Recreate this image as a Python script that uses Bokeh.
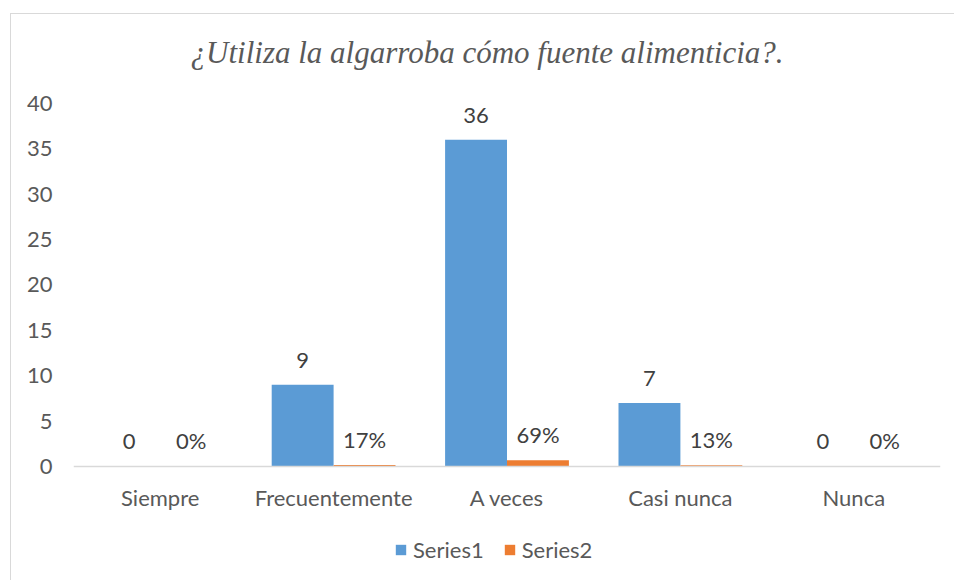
from bokeh.plotting import figure
from bokeh.models import ColumnDataSource, FactorRange, Range1d, FixedTicker, LabelSet, Label, Legend, LegendItem, Span
from bokeh.core.properties import value
from bokeh.transform import dodge
from bokeh.embed import file_html
from bokeh.resources import INLINE

categories = ["Siempre", "Frecuentemente", "A veces", "Casi nunca", "Nunca"]
series1 = [0, 9, 36, 7, 0]
series2 = [0.0, 0.17, 0.69, 0.13, 0.0]
y_ticks = [0, 5, 10, 15, 20, 25, 30, 35, 40]
series_names = ["Series1", "Series2"]
title_text = "¿Utiliza la algarroba cómo fuente alimenticia?."

BLUE = "#5B9BD5"
ORANGE = "#ED7D31"
TXT = "#595959"
LBL = "#404040"
FONT = "Lato"

src = ColumnDataSource(dict(
    cat=categories,
    s1=series1,
    s2=series2,
    zero=[0] * len(categories),
    l1=[str(v) for v in series1],
    l2=["{:.0f}%".format(v * 100) for v in series2],
))

# The frame spans the whole chart height; the value axis only shows ticks 0..40,
# the room above holds the title and the room below holds categories and legend.
p = figure(
    x_range=FactorRange(*categories, range_padding=0),
    y_range=Range1d(-12.011, 49.807),
    width=944, height=567,
    output_backend="svg", toolbar_location=None,
    min_border_left=62, min_border_right=15, min_border_top=0, min_border_bottom=6,
    background_fill_color="white", border_fill_color="white",
)
p.title.visible = False
p.styles = {
    "margin-left": "10px", "margin-top": "13px",
    "border-left": "1px solid #d9d9d9", "border-top": "1px solid #d9d9d9",
}
p.outline_line_color = None
p.xgrid.grid_line_color = None
p.ygrid.grid_line_color = None
p.xaxis.visible = False

title = Label(x=2.385, y=45.6, text=title_text, text_align="center",
              text_baseline="alphabetic", text_font="Liberation Serif",
              text_font_style="italic", text_font_size="31px", text_color=TXT)
p.add_layout(title)

bw = 0.357
r1 = p.vbar(x=dodge("cat", -bw / 2, range=p.x_range), top="s1", width=bw, source=src,
            fill_color=BLUE, line_color=None)
r2 = p.vbar(x=dodge("cat", bw / 2, range=p.x_range), top="s2", width=bw, source=src,
            fill_color=ORANGE, line_color=None)

# category axis line at zero
p.add_layout(Span(location=0, dimension="width", line_color="#d9d9d9", line_width=1.5))

# category labels
catlab = LabelSet(x="cat", y="zero", text="cat", source=src,
                  text_align="center", text_baseline="alphabetic", y_offset=-40,
                  text_font=value(FONT), text_font_size="22px", text_color=TXT)
p.add_layout(catlab)

lab1 = LabelSet(x=dodge("cat", -bw / 2, range=p.x_range), y="s1", text="l1", source=src,
                text_align="center", text_baseline="alphabetic", y_offset=17,
                text_font=value(FONT), text_font_size="22px", text_color=LBL)
lab2 = LabelSet(x=dodge("cat", bw / 2, range=p.x_range), y="s2", text="l2", source=src,
                text_align="center", text_baseline="alphabetic", y_offset=17,
                text_font=value(FONT), text_font_size="22px", text_color=LBL)
p.add_layout(lab1)
p.add_layout(lab2)

# y axis
p.yaxis.ticker = FixedTicker(ticks=y_ticks)
p.yaxis.axis_line_color = None
p.yaxis.major_tick_line_color = None
p.yaxis.minor_tick_line_color = None
p.yaxis.major_tick_out = 0
p.yaxis.major_tick_in = 0
p.yaxis.major_label_standoff = 21
p.yaxis.major_label_text_font = FONT
p.yaxis.major_label_text_font_size = "22px"
p.yaxis.major_label_text_color = TXT

legend = Legend(items=[LegendItem(label=series_names[0], renderers=[r1]),
                       LegendItem(label=series_names[1], renderers=[r2])],
                orientation="horizontal", location=(321, 12),
                glyph_width=13, glyph_height=13, label_standoff=6, spacing=19,
                padding=0, margin=0, border_line_color=None,
                label_text_font=FONT, label_text_font_size="22px", label_text_color=TXT,
                background_fill_alpha=0)
p.add_layout(legend, "center")

open("out.html", "w").write(file_html(p, INLINE))
